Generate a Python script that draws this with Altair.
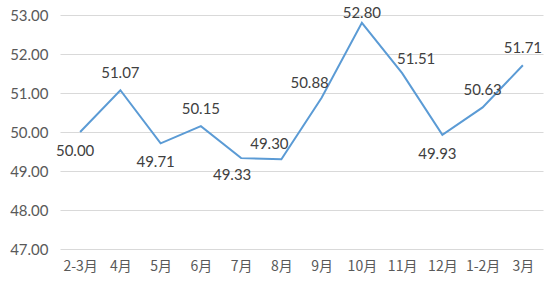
import altair as alt
import pandas as pd

months = ["2-3月", "4月", "5月", "6月", "7月", "8月", "9月", "10月", "11月", "12月", "1-2月", "3月"]
values = [50.00, 51.07, 49.71, 50.15, 49.33, 49.30, 50.88, 52.80, 51.51, 49.93, 50.63, 51.71]

df = pd.DataFrame({"month": months, "value": values})
df["label"] = df["value"].map(lambda v: f"{v:.2f}")

below = ["2-3月", "5月", "12月"]
below_left = ["7月"]
left_above = ["9月", "8月"]
right_above = ["11月"]
top_above = ["10月"]
above = [m for m in months if m not in below + below_left + left_above + right_above + top_above]

x = alt.X("month:N", sort=months, title=None,
          axis=alt.Axis(labelAngle=0, labelFont="Noto Sans CJK SC", labelFontSize=14,
                        labelColor="#595959", ticks=False, domain=False, labelPadding=10))
y = alt.Y("value:Q", title=None,
          scale=alt.Scale(domain=[47, 53], nice=False, zero=False),
          axis=alt.Axis(values=[47, 48, 49, 50, 51, 52, 53], format=".2f", labelFont="Lato",
                        labelFontSize=15, labelColor="#595959", ticks=False, domain=False,
                        labelPadding=12, gridColor="#D9D9D9", gridWidth=1))

base = alt.Chart(df)
line = base.mark_line(color="#5B9BD5", strokeWidth=2).encode(x=x, y=y)

def lab(cats, dx, dy):
    return base.transform_filter(alt.FieldOneOfPredicate(field="month", oneOf=cats)).mark_text(
        font="Lato", fontSize=15, color="#404040", dx=dx, dy=dy
    ).encode(x=x, y=y, text="label:N")

chart = alt.layer(
    line,
    lab(above, 0, -17),
    lab(below, -5, 19),
    lab(below_left, -9, 17),
    lab(left_above, -12, -15),
    lab(right_above, 14, -14),
    lab(top_above, 0, -10),
).properties(
    width=483, height=234,
    autosize=alt.AutoSizeParams(type="none"),
    padding={"left": 60, "top": 15, "right": 11, "bottom": 42},
).configure_view(stroke=None).configure_axisX(grid=False)

chart.save("out.html", embed_options={"renderer": "svg", "actions": False})
